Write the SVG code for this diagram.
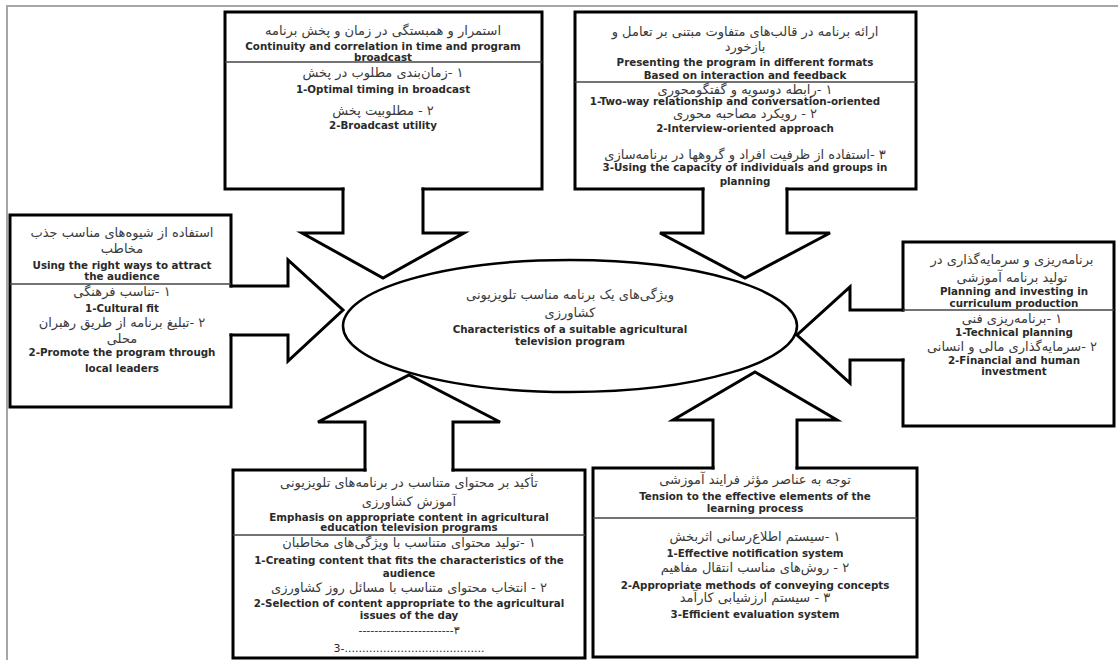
<svg xmlns="http://www.w3.org/2000/svg" width="1118" height="660" viewBox="0 0 1118 660">
<style>
.frame{stroke:#a6a6a6;stroke-width:2;fill:none}
.box{fill:none;stroke:#000;stroke-width:3;stroke-linejoin:miter;stroke-linecap:square}
.arrow{fill:none;stroke:#000;stroke-width:3;stroke-linejoin:miter;stroke-linecap:square}
.div{stroke:#444;stroke-width:1.5}
.fa{font-family:"DejaVu Sans",sans-serif;font-size:13px;fill:#3a3a3a;text-anchor:middle;direction:rtl}
.en{font-family:"DejaVu Sans",sans-serif;font-size:10.3px;font-weight:bold;fill:#2a2a2a;text-anchor:middle}
.dash{font-family:"DejaVu Sans",sans-serif;font-size:11px;fill:#2a2a2a;text-anchor:middle}
</style>
<rect x="0" y="0" width="1118" height="660" fill="#fff"/>
<path class="frame" d="M7,660 V6 H1118"/>

<g id="connectors">
  <polyline class="arrow" points="343,189 343,233 302,233 383,278 464,233 423,233 423,189"/>
  <polyline class="arrow" points="703,189 703,233 660,233 745,278 830,233 787,233 787,189"/>
  <polyline class="arrow" points="231,286 288,286 288,260 343,310 288,361 288,335 231,335"/>
  <polyline class="arrow" points="903,310 850,310 850,287 797,335 850,383 850,360 903,360"/>
  <polyline class="arrow" points="365,470 365,422 318,422 409,375 500,422 453,422 453,470"/>
  <polyline class="arrow" points="713,468 713,420 673,420 755,372 837,420 797,420 797,468"/>
</g>

<g id="node-center">
  <ellipse cx="570" cy="326" rx="227" ry="66" fill="none" stroke="#000" stroke-width="2.5"/>
  <text class="fa" x="570" y="299">ویژگی‌های یک برنامه مناسب تلویزیونی</text>
  <text class="fa" x="570" y="317">کشاورزی</text>
  <text class="en" x="570" y="333">Characteristics of a suitable agricultural</text>
  <text class="en" x="570" y="345">television program</text>
</g>

<g id="node-top-left">
  <path class="box" d="M343,189 H225 V12 H542 V189 H423"/>
  <line class="div" x1="225" y1="62" x2="542" y2="62"/>
  <text class="fa" x="383" y="35">استمرار و همبستگی در زمان و پخش برنامه</text>
  <text class="en" x="383" y="50">Continuity and correlation in time and program</text>
  <text class="en" x="383" y="61">broadcast</text>
  <text class="fa" x="383" y="77">۱ -زمان‌بندی مطلوب در پخش</text>
  <text class="en" x="383" y="93">1-Optimal timing in broadcast</text>
  <text class="fa" x="383" y="115">۲ - مطلوبیت پخش</text>
  <text class="en" x="383" y="129">2-Broadcast utility</text>
</g>

<g id="node-top-right">
  <path class="box" d="M703,189 H575 V12 H916 V189 H787"/>
  <line class="div" x1="575" y1="82" x2="916" y2="82"/>
  <text class="fa" x="745" y="36">ارائه برنامه در قالب‌های متفاوت مبتنی بر تعامل و</text>
  <text class="fa" x="745" y="51">بازخورد</text>
  <text class="en" x="745" y="66">Presenting the program in different  formats</text>
  <text class="en" x="745" y="79">Based on interaction and feedback</text>
  <text class="fa" x="745" y="94">۱ -رابطه دوسویه و گفتگومحوری</text>
  <text class="en" x="735" y="105">1-Two-way relationship and conversation-oriented</text>
  <text class="fa" x="745" y="118">۲ - رویکرد مصاحبه محوری</text>
  <text class="en" x="745" y="132">2-Interview-oriented approach</text>
  <text class="fa" x="745" y="159">۳ -استفاده از ظرفیت افراد و گروهها در برنامه‌سازی</text>
  <text class="en" x="745" y="171">3-Using the capacity of individuals and groups in</text>
  <text class="en" x="745" y="185">planning</text>
</g>

<g id="node-left">
  <path class="box" d="M231,286 V215 H10 V407 H231 V335"/>
  <line class="div" x1="10" y1="284" x2="231" y2="284"/>
  <text class="fa" x="122" y="237">استفاده از شیوه‌های مناسب جذب</text>
  <text class="fa" x="122" y="253">مخاطب</text>
  <text class="en" x="122" y="269">Using the right ways to attract</text>
  <text class="en" x="122" y="280">the audience</text>
  <text class="fa" x="122" y="296">۱ -تناسب فرهنگی</text>
  <text class="en" x="122" y="312">1-Cultural fit</text>
  <text class="fa" x="122" y="327">۲ -تبلیغ برنامه از طریق   رهبران</text>
  <text class="fa" x="122" y="343">محلی</text>
  <text class="en" x="122" y="356">2-Promote the program through</text>
  <text class="en" x="122" y="372">local leaders</text>
</g>

<g id="node-right">
  <path class="box" d="M903,310 V242 H1114 V426 H903 V360"/>
  <line class="div" x1="903" y1="310" x2="1114" y2="310"/>
  <text class="fa" x="1012" y="264">برنامه‌ریزی و سرمایه‌گذاری در</text>
  <text class="fa" x="1012" y="282">تولید برنامه آموزشی</text>
  <text class="en" x="1014" y="295">Planning and investing in</text>
  <text class="en" x="1014" y="307">curriculum production</text>
  <text class="fa" x="1012" y="323">۱ -برنامه‌ریزی فنی</text>
  <text class="en" x="1014" y="336">1-Technical planning</text>
  <text class="fa" x="1012" y="351">۲ -سرمایه‌گذاری مالی و انسانی</text>
  <text class="en" x="1014" y="364">2-Financial and human</text>
  <text class="en" x="1014" y="375">investment</text>
</g>

<g id="node-bottom-left">
  <path class="box" d="M365,470 H233 V658 H585 V470 H453"/>
  <line class="div" x1="233" y1="535" x2="585" y2="535"/>
  <text class="fa" x="409" y="487">تأکید بر محتوای متناسب در برنامه‌های تلویزیونی</text>
  <text class="fa" x="409" y="506">آموزش کشاورزی</text>
  <text class="en" x="409" y="521">Emphasis on appropriate content in agricultural</text>
  <text class="en" x="409" y="531">education television programs</text>
  <text class="fa" x="409" y="547">۱ -تولید محتوای متناسب با ویژگی‌های مخاطبان</text>
  <text class="en" x="409" y="564">1-Creating content that fits the characteristics of the</text>
  <text class="en" x="409" y="577">audience</text>
  <text class="fa" x="409" y="592">۲ - انتخاب محتوای متناسب با مسائل روز کشاورزی</text>
  <text class="en" x="409" y="607">2-Selection of content appropriate to the agricultural</text>
  <text class="en" x="409" y="619">issues of the day</text>
  <text class="dash" x="409" y="634">------------------------۳</text>
  <text class="dash" x="409" y="652">3-........................................</text>
</g>

<g id="node-bottom-right">
  <path class="box" d="M713,468 H593 V657 H917 V468 H797"/>
  <line class="div" x1="593" y1="518" x2="917" y2="518"/>
  <text class="fa" x="755" y="484">توجه به عناصر مؤثر فرایند آموزشی</text>
  <text class="en" x="755" y="500">Tension to the effective elements of the</text>
  <text class="en" x="755" y="512">learning process</text>
  <text class="fa" x="755" y="541">۱ -سیستم اطلاع‌رسانی اثربخش</text>
  <text class="en" x="755" y="557">1-Effective notification system</text>
  <text class="fa" x="755" y="572">۲ - روش‌های مناسب انتقال مفاهیم</text>
  <text class="en" x="755" y="589">2-Appropriate methods of conveying concepts</text>
  <text class="fa" x="755" y="602">۳ - سیستم ارزشیابی کارآمد</text>
  <text class="en" x="755" y="618">3-Efficient evaluation system</text>
</g>
</svg>
